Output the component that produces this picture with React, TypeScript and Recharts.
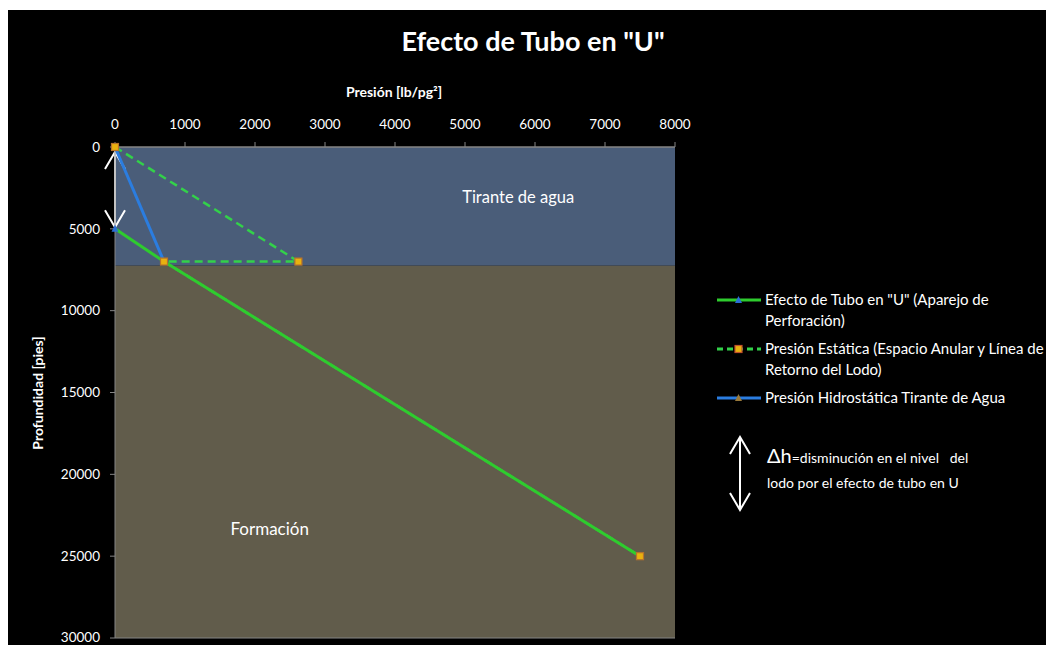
import React from 'react';
import {
  ScatterChart,
  Scatter,
  XAxis,
  YAxis,
  ReferenceArea,
  ReferenceLine,
  ReferenceDot,
  Label,
  Legend,
} from 'recharts';

// Presión [lb/pg2] vs Profundidad [pies]
const pressureTicks = [0, 1000, 2000, 3000, 4000, 5000, 6000, 7000, 8000];
const depthTicks = [0, 5000, 10000, 15000, 20000, 25000, 30000];

const tuboU = [
  { p: 0, d: 5000 },
  { p: 700, d: 7000 },
  { p: 7500, d: 25000 },
];
const estatica = [
  { p: 0, d: 0 },
  { p: 2620, d: 7000 },
  { p: 700, d: 7000 },
  { p: 7500, d: 25000 },
];
const hidrostatica = [
  { p: 0, d: 0 },
  { p: 700, d: 7000 },
];

const seriesNames = [
  'Efecto de Tubo en "U" (Aparejo de\nPerforación)',
  'Presión Estática (Espacio Anular y Línea de\nRetorno del Lodo)',
  'Presión Hidrostática Tirante de Agua',
];

const waterBottom = 7250;
const deltaH = [300, 4900];

const GREEN = '#2ecc2e';
const GREEN_DASH = '#33d14a';
const BLUE = '#2b7de0';
const WATER = '#4a5d79';
const FORMATION = '#615c4b';
const AXIS = '#858585';

const Square = (props: any) => {
  const { cx, cy } = props;
  if (cx == null || cy == null) return null;
  return <rect x={cx - 3.5} y={cy - 3.5} width={7} height={7} fill="#e9b10f" stroke="#b8732a" strokeWidth={1.2} />;
};

const Triangle = (color: string) => (props: any) => {
  const { cx, cy } = props;
  if (cx == null || cy == null) return null;
  return <path d={`M${cx},${cy - 4} L${cx + 3.5},${cy + 3} L${cx - 3.5},${cy + 3} Z`} fill={color} />;
};

const DoubleArrow = (props: any) => {
  const { x1, y1, x2, y2 } = props;
  return (
    <g stroke="#fff" strokeWidth={2} fill="none">
      <line x1={x1} y1={y1} x2={x2} y2={y2} />
      <polyline points={`${x1 - 10},${y1 + 17} ${x1},${y1} ${x1 + 10},${y1 + 17}`} />
      <polyline points={`${x2 - 10},${y2 - 17} ${x2},${y2} ${x2 + 10},${y2 - 17}`} />
    </g>
  );
};

const legendIcons = [
  { color: GREEN, dash: undefined, marker: 'tri', markerColor: '#2b6fd6' },
  { color: GREEN_DASH, dash: '6 4', marker: 'sq', markerColor: '#e9b10f' },
  { color: BLUE, dash: undefined, marker: 'tri', markerColor: '#9a7a3a' },
];

const LegendContent = () => (
  <div style={{ fontFamily: 'Lato', fontSize: 15, color: '#fff' }}>
    {seriesNames.map((name, i) => {
      const ic = legendIcons[i];
      return (
        <div key={i} style={{ display: 'flex', alignItems: 'flex-start', marginBottom: 7, lineHeight: '21px' }}>
          <svg width={46} height={21} style={{ flex: 'none', marginRight: 2 }}>
            <line x1={0} y1={11} x2={44} y2={11} stroke={ic.color} strokeWidth={3} strokeDasharray={ic.dash} />
            {ic.marker === 'sq' ? (
              <rect x={18} y={7.5} width={7} height={7} fill={ic.markerColor} stroke="#c0502a" strokeWidth={1.2} />
            ) : (
              <path d="M21.5,7 L25,14 L18,14 Z" fill={ic.markerColor} />
            )}
          </svg>
          <span style={{ whiteSpace: 'pre-line' }}>{name}</span>
        </div>
      );
    })}
  </div>
);

export default function App() {
  return (
    <div style={{ position: 'relative', top: 2, width: 1046, height: 640, background: '#000', fontFamily: 'Lato', overflow: 'hidden' }}>
      <ScatterChart width={1046} height={635} margin={{ top: 107, right: 379, bottom: 7, left: 47 }}>
        <XAxis
          type="number"
          dataKey="p"
          orientation="top"
          domain={[0, 8000]}
          ticks={pressureTicks}
          height={30}
          tickSize={5}
          tickMargin={13}
          axisLine={{ stroke: AXIS }}
          tickLine={{ stroke: AXIS }}
          tick={{ fill: '#fff', fontSize: 13.5 }}
        />
        <YAxis
          type="number"
          dataKey="d"
          reversed
          domain={[0, 30000]}
          ticks={depthTicks}
          width={60}
          tickSize={5}
          tickMargin={10}
          axisLine={{ stroke: AXIS }}
          tickLine={{ stroke: AXIS }}
          tick={{ fill: '#fff', fontSize: 13.5 }}
        />
        <ReferenceArea x1={0} x2={8000} y1={0} y2={waterBottom} fill={WATER} fillOpacity={1} stroke="none" />
        <ReferenceArea x1={0} x2={8000} y1={waterBottom} y2={30000} fill={FORMATION} fillOpacity={1} stroke="none" />
        <ReferenceLine y={30000} stroke={AXIS} />
        <ReferenceLine y={0} stroke={AXIS} />
        <ReferenceDot x={5760} y={3050} r={0} fill="none" stroke="none">
          <Label value="Tirante de agua" position="center" fill="#fff" fontSize={16.5} />
        </ReferenceDot>
        <ReferenceDot x={2210} y={23350} r={0} fill="none" stroke="none">
          <Label value="Formación" position="center" fill="#fff" fontSize={17} />
        </ReferenceDot>
        <Scatter
          name={seriesNames[1]}
          data={estatica}
          isAnimationActive={false}
          fill={GREEN_DASH}
          line={{ stroke: GREEN_DASH, strokeWidth: 2.5, strokeDasharray: '8 5' }}
          shape={() => null}
        />
        <Scatter
          name={seriesNames[0]}
          data={tuboU}
          isAnimationActive={false}
          fill={GREEN}
          line={{ stroke: GREEN, strokeWidth: 3 }}
          shape={Triangle('#2b6fd6')}
        />
        <Scatter
          name={seriesNames[2]}
          data={hidrostatica}
          isAnimationActive={false}
          fill={BLUE}
          line={{ stroke: BLUE, strokeWidth: 3 }}
          shape={Triangle('#9a7a3a')}
        />
        <Scatter name="marcas" data={estatica} isAnimationActive={false} fill="#e9b10f" shape={Square} legendType="none" />
        <ReferenceLine
          segment={[
            { x: 0, y: deltaH[0] },
            { x: 0, y: deltaH[1] },
          ]}
          shape={DoubleArrow}
        />
        <Legend
          layout="vertical"
          align="center"
          verticalAlign="middle"
          content={LegendContent}
          wrapperStyle={{ left: 709, top: 279, width: 337 }}
        />
      </ScatterChart>
      <svg width={1046} height={640} style={{ position: 'absolute', left: 0, top: 0, pointerEvents: 'none' }}>
        <text x={525} y={41} textAnchor="middle" fill="#fff" fontSize={27} fontWeight="bold">
          Efecto de Tubo en "U"
        </text>
        <text x={386} y={87} textAnchor="middle" fill="#fff" fontSize={14} fontWeight="bold">
          Presión [lb/pg²]
        </text>
        <text
          x={29}
          y={383}
          textAnchor="middle"
          dominantBaseline="central"
          fill="#fff"
          fontSize={14}
          fontWeight="bold"
          transform="rotate(-90 29 383)"
        >
          Profundidad [pies]
        </text>
        <DoubleArrow x1={732} y1={427} x2={732} y2={500} />
        <text x={759} y={453} fill="#fff" fontSize={14}>
          <tspan fontSize={20}>Δh</tspan>=disminución en el nivel{'\u00a0\u00a0\u00a0'}del
        </text>
        <text x={759} y={478} fill="#fff" fontSize={14}>
          lodo por el efecto de tubo en U
        </text>
      </svg>
    </div>
  );
}
